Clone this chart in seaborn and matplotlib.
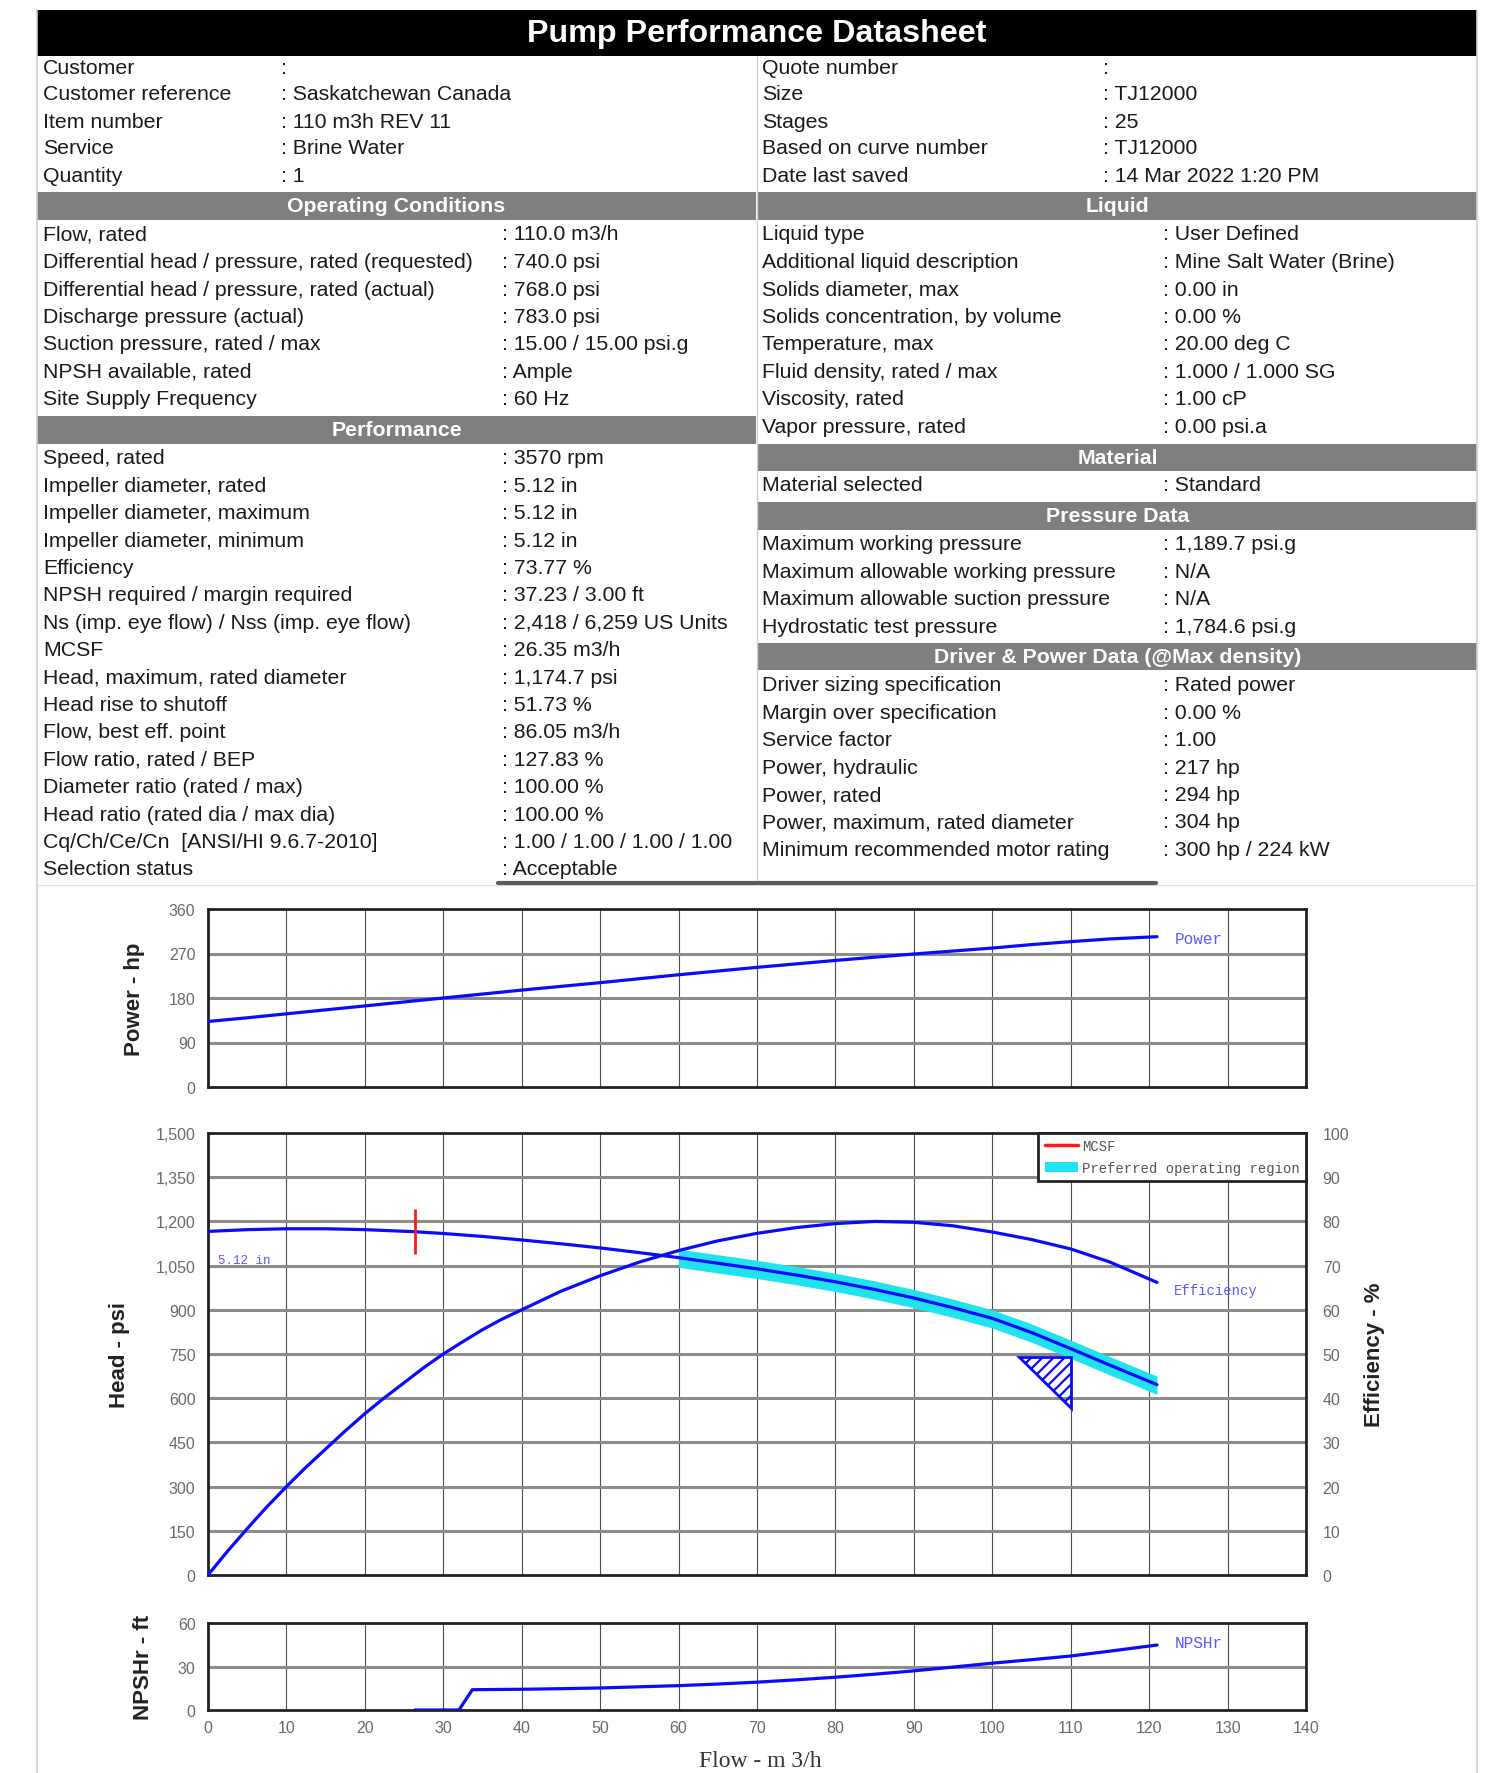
import matplotlib
matplotlib.use("Agg")
import matplotlib.pyplot as plt
from matplotlib import font_manager
from matplotlib.patches import Rectangle, Polygon, Patch
from matplotlib.lines import Line2D
from matplotlib.ticker import FuncFormatter, MultipleLocator
import numpy as np
import pandas as pd
import seaborn as sns

# ---------------- datasheet text ----------------
title = "Pump Performance Datasheet"

general_left_labels = ["Customer", "Customer reference", "Item number", "Service", "Quantity"]
general_left_values = ["", "Saskatchewan Canada", "110 m3h REV 11", "Brine Water", "1"]
general_right_labels = ["Quote number", "Size", "Stages", "Based on curve number", "Date last saved"]
general_right_values = ["", "TJ12000", "25", "TJ12000", "14 Mar 2022 1:20 PM"]

operating_labels = ["Flow, rated", "Differential head / pressure, rated (requested)",
                    "Differential head / pressure, rated (actual)", "Discharge pressure (actual)",
                    "Suction pressure, rated / max", "NPSH available, rated", "Site Supply Frequency"]
operating_values = ["110.0 m3/h", "740.0 psi", "768.0 psi", "783.0 psi",
                    "15.00 / 15.00 psi.g", "Ample", "60 Hz"]

performance_labels = ["Speed, rated", "Impeller diameter, rated", "Impeller diameter, maximum",
                      "Impeller diameter, minimum", "Efficiency", "NPSH required / margin required",
                      "Ns (imp. eye flow) / Nss (imp. eye flow)", "MCSF",
                      "Head, maximum, rated diameter", "Head rise to shutoff",
                      "Flow, best eff. point", "Flow ratio, rated / BEP",
                      "Diameter ratio (rated / max)", "Head ratio (rated dia / max dia)",
                      "Cq/Ch/Ce/Cn  [ANSI/HI 9.6.7-2010]", "Selection status"]
performance_values = ["3570 rpm", "5.12 in", "5.12 in", "5.12 in", "73.77 %",
                      "37.23 / 3.00 ft", "2,418 / 6,259 US Units", "26.35 m3/h",
                      "1,174.7 psi", "51.73 %", "86.05 m3/h", "127.83 %", "100.00 %",
                      "100.00 %", "1.00 / 1.00 / 1.00 / 1.00", "Acceptable"]

liquid_labels = ["Liquid type", "Additional liquid description", "Solids diameter, max",
                 "Solids concentration, by volume", "Temperature, max",
                 "Fluid density, rated / max", "Viscosity, rated", "Vapor pressure, rated"]
liquid_values = ["User Defined", "Mine Salt Water (Brine)", "0.00 in", "0.00 %",
                 "20.00 deg C", "1.000 / 1.000 SG", "1.00 cP", "0.00 psi.a"]

material_labels = ["Material selected"]
material_values = ["Standard"]

pressure_labels = ["Maximum working pressure", "Maximum allowable working pressure",
                   "Maximum allowable suction pressure", "Hydrostatic test pressure"]
pressure_values = ["1,189.7 psi.g", "N/A", "N/A", "1,784.6 psi.g"]

driver_labels = ["Driver sizing specification", "Margin over specification", "Service factor",
                 "Power, hydraulic", "Power, rated", "Power, maximum, rated diameter",
                 "Minimum recommended motor rating"]
driver_values = ["Rated power", "0.00 %", "1.00", "217 hp", "294 hp", "304 hp",
                 "300 hp / 224 kW"]

# ---------------- curve data (flow in m3/h) ----------------
flow_head = [0, 5, 10, 15, 20, 26.35, 30, 35, 40, 45, 50, 55, 60, 65, 70, 75, 80,
             85, 90, 95, 100, 105, 110, 115, 121]
head_psi = [1166, 1172, 1175, 1175, 1172, 1165, 1159, 1149, 1137, 1124, 1110, 1094,
            1077, 1058, 1039, 1018, 995, 969, 940, 907, 871, 823, 768, 712, 646]

flow_eff = [0, 2.5, 5, 7.5, 10, 12.5, 15, 17.5, 20, 22.5, 25, 27.5, 30, 32.5, 35,
            37.5, 40, 45, 50, 55, 60, 65, 70, 75, 80, 85, 90, 95, 100, 105, 110,
            115, 121]
eff_pct = [0, 5.4, 10.5, 15.4, 20, 24.4, 28.5, 32.6, 36.5, 40.1, 43.5, 46.9, 50,
           52.8, 55.5, 57.9, 60, 64.2, 67.7, 70.8, 73.4, 75.6, 77.3, 78.6, 79.5, 80,
           79.8, 79.0, 77.6, 75.9, 73.77, 70.8, 66.2]

flow_power = [0, 5, 10, 15, 20, 25, 30, 35, 40, 45, 50, 55, 60, 65, 70, 75, 80, 85,
              90, 95, 100, 105, 110, 115, 121]
power_hp = [132.5, 140, 148, 156, 164, 172, 180, 188, 196, 203.5, 211, 219, 227,
            234.5, 242, 249, 256, 262.5, 269, 275, 281, 288, 294, 299.5, 304]

flow_npsh = [26.35, 32, 33.7, 40, 45, 50, 55, 60, 65, 70, 75, 80, 85, 90, 95, 100,
             105, 110, 115, 121]
npsh_ft = [0, 0, 14, 14.3, 14.7, 15.2, 16, 16.8, 17.9, 19.2, 20.8, 22.6, 24.7, 27,
           29.6, 32.3, 34.7, 37.23, 40.6, 44.8]

mcsf_flow = 26.35
rated_flow = 110.0
rated_head_requested = 740.0
por_start_flow = 60.0
impeller_label = "5.12 in"

power_ticks = [0, 90, 180, 270, 360]
head_ticks = [0, 150, 300, 450, 600, 750, 900, 1050, 1200, 1350, 1500]
eff_ticks = [0, 10, 20, 30, 40, 50, 60, 70, 80, 90, 100]
npsh_ticks = [0, 30, 60]
flow_ticks = list(range(0, 141, 10))

# ---------------- styling ----------------
sns.set_theme(style="white")
names = {f.name for f in font_manager.fontManager.ttflist}
SANS = "Liberation Sans" if "Liberation Sans" in names else "DejaVu Sans"
NARROW = "Liberation Sans Narrow" if "Liberation Sans Narrow" in names else SANS
MONO = "Liberation Mono" if "Liberation Mono" in names else "DejaVu Sans Mono"
SERIF = "Liberation Serif" if "Liberation Serif" in names else "DejaVu Serif"
plt.rcParams["font.family"] = [SANS, "DejaVu Sans"]
plt.rcParams["hatch.linewidth"] = 1.6

W, H = 1492, 1774
fig = plt.figure(figsize=(W / 100, H / 100), dpi=100)
fig.patch.set_facecolor("white")

# background canvas in pixel coordinates for the datasheet tables
bg = fig.add_axes([0, 0, 1, 1], zorder=-5)
bg.set_xlim(0, W)
bg.set_ylim(H, 0)
bg.axis("off")

FS = 15.3
TXT = "#1a1a1a"
BAR = "#7f7f7f"
LINE = "#cfcfcf"

# page frame
bg.plot([37, 37], [11, H], color=LINE, lw=1.2)
bg.plot([1477, 1477], [11, H], color=LINE, lw=1.2)
bg.plot([757, 757], [57, 884], color=LINE, lw=1.0)
bg.plot([37, 1477], [886, 886], color="#e2e2e2", lw=1.0)
bg.plot([498, 756], [884, 884], color="#5a5a5a", lw=3)
bg.plot([758, 1156], [884, 884], color="#5a5a5a", lw=3)

# title bar
bg.add_patch(Rectangle((37, 11), 1440, 46, facecolor="black", edgecolor="none"))
bg.text(757, 34, title, color="white", fontsize=23.2, fontweight="bold",
        ha="center", va="center")


def section_bar(x0, x1, y0, y1, label):
    bg.add_patch(Rectangle((x0, y0), x1 - x0, y1 - y0, facecolor=BAR, edgecolor="none"))
    bg.text((x0 + x1) / 2, (y0 + y1) / 2, label, color="white", fontsize=FS,
            fontweight="bold", ha="center", va="center")


def rows(labels, values, y0, dy, xl, xv):
    for i, (lab, val) in enumerate(zip(labels, values)):
        y = y0 + i * dy
        bg.text(xl, y, lab, fontsize=FS, color=TXT, ha="left", va="center")
        bg.text(xv, y, (": " + val) if val else ":", fontsize=FS, color=TXT,
                ha="left", va="center")


rows(general_left_labels, general_left_values, 68, 27, 43, 281)
rows(general_right_labels, general_right_values, 68, 27, 762, 1103)

section_bar(37, 756, 193, 221, "Operating Conditions")
rows(operating_labels, operating_values, 235, 27.5, 43, 502)
section_bar(37, 756, 417, 445, "Performance")
rows(performance_labels, performance_values, 459, 27.4, 43, 502)

section_bar(758, 1477, 193, 221, "Liquid")
rows(liquid_labels, liquid_values, 235, 27.5, 762, 1163)
section_bar(758, 1477, 445, 472, "Material")
rows(material_labels, material_values, 486, 27.5, 762, 1163)
section_bar(758, 1477, 503, 531, "Pressure Data")
rows(pressure_labels, pressure_values, 545, 27.5, 762, 1163)
section_bar(758, 1477, 644, 671, "Driver & Power Data (@Max density)")
rows(driver_labels, driver_values, 686, 27.4, 762, 1163)

# ---------------- charts ----------------
BLUE = "#0a0aff"
LABEL_BLUE = "#5a5aff"
TICK = "#6a6a6a"
TICK_FS = 11.5
AXLAB_FS = 16


def rect(l, t, r, b):
    return [l / W, 1 - b / H, (r - l) / W, (b - t) / H]


def style_axes(ax, yticks, show_x):
    ax.set_facecolor("white")
    ax.set_xlim(0, 140)
    ax.set_ylim(yticks[0], yticks[-1])
    ax.set_yticks(yticks)
    ax.xaxis.set_major_locator(MultipleLocator(10))
    ax.grid(False)
    for x in flow_ticks[1:-1]:
        ax.axvline(x, color="#4d4d4d", lw=0.8, zorder=0.5)
    for y in yticks[1:-1]:
        ax.axhline(y, color="#8c8c8c", lw=2.2, zorder=0.5)
    for s in ax.spines.values():
        s.set_color("#222222")
        s.set_linewidth(2.0)
        s.set_visible(True)
    ax.tick_params(axis="both", length=0, labelsize=TICK_FS, labelcolor=TICK)
    ax.tick_params(axis="y", pad=9)
    ax.tick_params(axis="x", pad=7)
    ax.yaxis.set_major_formatter(FuncFormatter(lambda v, p: f"{v:,.0f}"))
    for lab in ax.get_yticklabels():
        lab.set_family(NARROW)
    if show_x:
        ax.set_xticks(flow_ticks)
        ax.set_xticklabels([str(t) for t in flow_ticks], family=NARROW)
    else:
        ax.set_xticklabels([])
    ax.set_xlabel("")


# Power
ax_p = fig.add_axes(rect(208, 910, 1306, 1088))
df_p = pd.DataFrame({"flow": flow_power, "power": power_hp})
sns.lineplot(data=df_p, x="flow", y="power", ax=ax_p, color=BLUE, linewidth=2.3, zorder=3)
style_axes(ax_p, power_ticks, False)
ax_p.set_ylabel("Power - hp", fontsize=AXLAB_FS, fontweight="bold", color="#222")
ax_p.yaxis.set_label_coords(-0.057, 0.5)
ax_p.text(flow_power[-1] + 2.3, power_hp[-1] - 3, "Power", color=LABEL_BLUE,
          family=MONO, fontsize=11.5, ha="left", va="center")

# Head and efficiency
ax_h = fig.add_axes(rect(208, 1134, 1306, 1576))
df_h = pd.DataFrame({"flow": flow_head, "head": head_psi})
por = df_h[df_h["flow"] >= por_start_flow]
ax_h.fill_between(por["flow"], por["head"] - 33, por["head"] + 29,
                  color="#1fe3ee", linewidth=0, zorder=2)
sns.lineplot(data=df_h, x="flow", y="head", ax=ax_h, color=BLUE, linewidth=2.3, zorder=3)
style_axes(ax_h, head_ticks, False)
ax_h.set_ylabel("Head - psi", fontsize=AXLAB_FS, fontweight="bold", color="#222")
ax_h.yaxis.set_label_coords(-0.071, 0.5)

mcsf_head = np.interp(mcsf_flow, flow_head, head_psi)
ax_h.vlines(mcsf_flow, mcsf_head - 76, mcsf_head + 76, color="#ff1a1a", lw=2.0, zorder=4)
ax_h.text(1.3, 1068, impeller_label, color=LABEL_BLUE, family=MONO, fontsize=9,
          ha="left", va="center")

# rated point marker
tri_w, tri_h = 6.6, 172
tri = Polygon([[rated_flow - tri_w, rated_head_requested],
               [rated_flow, rated_head_requested],
               [rated_flow, rated_head_requested - tri_h]],
              closed=True, facecolor="none", edgecolor=BLUE, hatch="///", lw=2.0, zorder=5)
ax_h.add_patch(tri)

ax_e = ax_h.twinx()
df_e = pd.DataFrame({"flow": flow_eff, "eff": eff_pct})
sns.lineplot(data=df_e, x="flow", y="eff", ax=ax_e, color=BLUE, linewidth=2.3, zorder=3)
ax_e.set_ylim(0, 100)
ax_e.set_yticks(eff_ticks)
ax_e.grid(False)
ax_e.tick_params(axis="y", length=0, labelsize=TICK_FS, labelcolor=TICK, pad=12)
for lab in ax_e.get_yticklabels():
    lab.set_family(NARROW)
for s in ax_e.spines.values():
    s.set_visible(False)
ax_e.set_ylabel("Efficiency - %", fontsize=AXLAB_FS, fontweight="bold", color="#222")
ax_e.yaxis.set_label_coords(1.053, 0.5)
ax_e.text(flow_eff[-1] + 2.2, eff_pct[-1] - 1.8, "Efficiency", color=LABEL_BLUE,
          family=MONO, fontsize=10, ha="left", va="center")

handles = [Line2D([0], [0], color="#ff1a1a", lw=2.5),
           Patch(facecolor="#1fe3ee", edgecolor="none")]
leg = ax_e.legend(handles, ["MCSF", "Preferred operating region"], loc="upper right",
                  bbox_to_anchor=(1.0, 1.0), borderaxespad=0.0, frameon=True,
                  fancybox=False, framealpha=1, edgecolor="#222",
                  handlelength=2.4, handletextpad=0.3, borderpad=0.45, labelspacing=0.55,
                  prop={"family": MONO, "size": 10})
leg.get_frame().set_linewidth(2.0)
for t in leg.get_texts():
    t.set_color("#555555")

# NPSHr
ax_n = fig.add_axes(rect(208, 1624, 1306, 1711))
df_n = pd.DataFrame({"flow": flow_npsh, "npsh": npsh_ft})
sns.lineplot(data=df_n, x="flow", y="npsh", ax=ax_n, color=BLUE, linewidth=2.3, zorder=3)
style_axes(ax_n, npsh_ticks, True)
ax_n.set_ylabel("NPSHr - ft", fontsize=AXLAB_FS, fontweight="bold", color="#222")
ax_n.yaxis.set_label_coords(-0.049, 0.5)
ax_n.text(flow_npsh[-1] + 2.3, npsh_ft[-1] + 1.5, "NPSHr", color=LABEL_BLUE,
          family=MONO, fontsize=11.5, ha="left", va="center")

bg.text(760, 1762, "Flow - m 3/h", family=SERIF, fontsize=17, color="#333",
        ha="center", va="center")

fig.savefig("out.png", dpi=100, facecolor="white")
